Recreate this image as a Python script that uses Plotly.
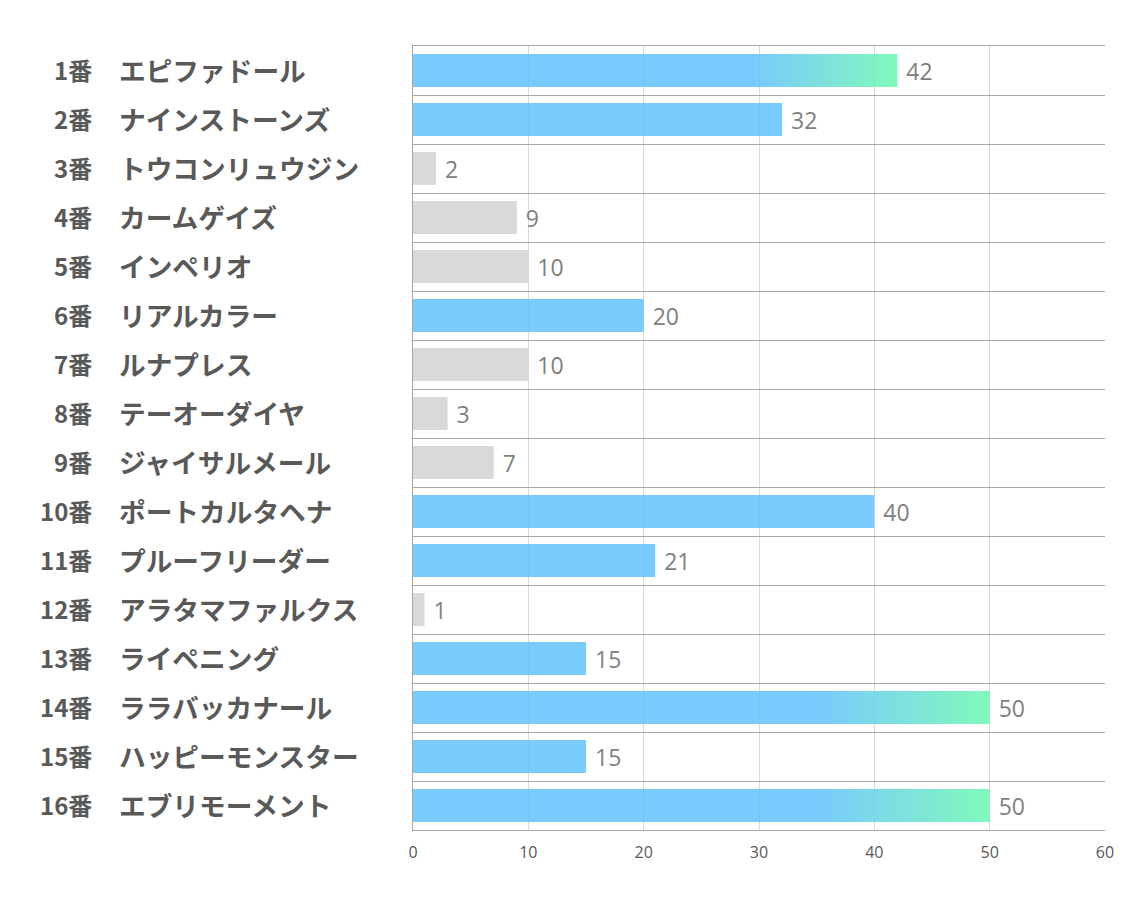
import plotly.graph_objects as go

numbers = ["1番", "2番", "3番", "4番", "5番", "6番", "7番", "8番", "9番", "10番",
           "11番", "12番", "13番", "14番", "15番", "16番"]
names = ["エピファドール", "ナインストーンズ", "トウコンリュウジン", "カームゲイズ",
         "インペリオ", "リアルカラー", "ルナプレス", "テーオーダイヤ", "ジャイサルメール",
         "ポートカルタヘナ", "プルーフリーダー", "アラタマファルクス", "ライペニング",
         "ララバッカナール", "ハッピーモンスター", "エブリモーメント"]
values = [42, 32, 2, 9, 10, 20, 10, 3, 7, 40, 21, 1, 15, 50, 15, 50]
x_ticks = [0, 10, 20, 30, 40, 50, 60]

BLUE = "rgba(101,194,253,0.87)"
GREY = "rgba(217,217,217,1)"
GREEN = "rgba(110,248,178,0.87)"
BAR_W = 0.67
top3 = sorted(values, reverse=True)[:3]
thr = min(top3)

idx = list(range(len(values)))
colors = []
for v in values:
    if v >= thr:
        colors.append("rgba(0,0,0,0)")
    elif v >= 15:
        colors.append(BLUE)
    else:
        colors.append(GREY)

fig = go.Figure()
fig.add_trace(go.Bar(
    x=values, y=idx, orientation="h", width=BAR_W,
    marker=dict(color=colors, line=dict(width=0)),
    texttemplate=" %{x}", textposition="outside",
    textfont=dict(family="Open Sans", size=23, color="#7f7f7f"),
    cliponaxis=False, hoverinfo="skip",
))

for i, v in zip(idx, values):
    if v >= thr:
        h = BAR_W / 2
        fig.add_trace(go.Scatter(
            x=[0, v, v, 0, 0], y=[i - h, i - h, i + h, i + h, i - h],
            mode="lines", line=dict(width=0), fill="toself",
            fillgradient=dict(type="horizontal",
                              colorscale=[[0, BLUE], [0.7, BLUE], [1, GREEN]]),
            hoverinfo="skip", showlegend=False,
        ))

annotations = []
for i, (n, nm) in enumerate(zip(numbers, names)):
    annotations.append(dict(x=(94 - 413) / 692, y=i, xref="paper", yref="y", text=n,
                            showarrow=False, xanchor="right", yanchor="middle", yshift=1,
                            font=dict(family="Noto Sans CJK JP", size=24, color="#595959", weight="bold")))
    annotations.append(dict(x=(117 - 413) / 692, y=i, xref="paper", yref="y", text=nm,
                            showarrow=False, xanchor="left", yanchor="middle", yshift=1,
                            font=dict(family="Noto Sans CJK JP", size=26.7, color="#595959", weight="bold")))

fig.update_layout(
    width=1134, height=907,
    margin=dict(l=413, r=29, t=46, b=77),
    plot_bgcolor="white", paper_bgcolor="white",
    showlegend=False, annotations=annotations,
    xaxis=dict(range=[0, 60], tickvals=x_ticks, showgrid=True, gridcolor="#d9d9d9",
               gridwidth=1, zeroline=False, showline=True, mirror=True,
               linecolor="#a6a6a6", linewidth=1, ticks="", ticklabelstandoff=8,
               tickfont=dict(family="Open Sans", size=16, color="#595959"),
               fixedrange=True),
    yaxis=dict(range=[15.5, -0.5], tickmode="linear", tick0=0.5, dtick=1,
               showticklabels=False, showgrid=True, gridcolor="#a6a6a6", gridwidth=1,
               zeroline=False, showline=True, linecolor="#a6a6a6", linewidth=1,
               ticks="", fixedrange=True),
)

fig.write_html("out.html")
